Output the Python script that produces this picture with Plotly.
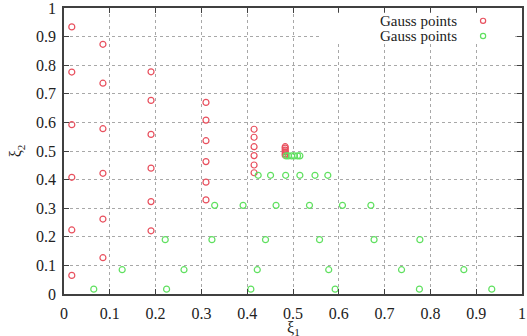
import plotly.graph_objects as go

# Red series: six columns of six points
red_x = [0.017]*6 + [0.085]*6 + [0.19]*6 + [0.31]*6 + [0.415]*6 + [0.483]*6
red_y = [0.065, 0.224, 0.408, 0.592, 0.776, 0.934,
         0.127, 0.262, 0.422, 0.578, 0.737, 0.873,
         0.221, 0.323, 0.440, 0.558, 0.677, 0.777,
         0.329, 0.391, 0.463, 0.536, 0.608, 0.670,
         0.424, 0.451, 0.484, 0.515, 0.548, 0.576,
         0.485, 0.490, 0.497, 0.503, 0.510, 0.515]

# Green series: six rows of six points
green_x = [0.065, 0.224, 0.408, 0.592, 0.776, 0.934,
           0.127, 0.262, 0.422, 0.578, 0.737, 0.873,
           0.221, 0.323, 0.440, 0.558, 0.677, 0.777,
           0.329, 0.391, 0.463, 0.536, 0.608, 0.670,
           0.424, 0.451, 0.484, 0.515, 0.548, 0.576,
           0.485, 0.490, 0.497, 0.503, 0.510, 0.515]
green_y = [0.017]*6 + [0.085]*6 + [0.19]*6 + [0.31]*6 + [0.415]*6 + [0.483]*6

tick_vals = [0, 0.1, 0.2, 0.3, 0.4, 0.5, 0.6, 0.7, 0.8, 0.9, 1]
tick_text = ["0", "0.1", "0.2", "0.3", "0.4", "0.5", "0.6", "0.7", "0.8", "0.9", "1"]
legend_names = ["Gauss points", "Gauss points"]
x_title = "ξ<sub>1</sub>"
y_title = "ξ<sub>2</sub>"

RED = "#e8505e"
GREEN = "#5fe05f"
FONT = "Liberation Serif"

fig = go.Figure()
fig.add_trace(go.Scatter(x=red_x, y=red_y, mode="markers", name=legend_names[0],
                         marker=dict(symbol="circle-open", size=6, color=RED, line=dict(width=1.2))))
fig.add_trace(go.Scatter(x=green_x, y=green_y, mode="markers", name=legend_names[1],
                         marker=dict(symbol="circle-open", size=6, color=GREEN, line=dict(width=1.2))))

axis_common = dict(range=[0, 1], tickvals=tick_vals, ticktext=tick_text,
                   showgrid=True, gridcolor="#a8a8a8", griddash="dot", gridwidth=1,
                   showline=True, linecolor="#404040", linewidth=1.5, mirror="ticks",
                   ticks="inside", ticklen=5, tickcolor="#404040", tickwidth=1,
                   zeroline=False, ticklabeloverflow="allow", automargin=False,
                   tickfont=dict(family=FONT, size=16, color="#222"))

fig.update_layout(
    width=527, height=336,
    margin=dict(l=64, r=5, t=8, b=42),
    paper_bgcolor="white", plot_bgcolor="white",
    showlegend=False,
    font=dict(family=FONT, color="#222"),
    xaxis=dict(**axis_common, ticklabelstandoff=4),
    yaxis=dict(**axis_common, ticklabelstandoff=3,
               title=dict(text=y_title, font=dict(family=FONT, size=16), standoff=10)),
)

# x-axis title placed below tick labels
fig.add_annotation(text=x_title, xref="paper", yref="paper", x=0.5, y=-0.122,
                   xanchor="center", yanchor="middle", showarrow=False,
                   font=dict(family=FONT, size=16, color="#222"))

# opaque key box
fig.add_shape(type="rect", xref="paper", yref="paper", x0=0.562, x1=0.985, y0=0.874, y1=0.983,
              fillcolor="white", line=dict(width=0), layer="above")
rows = [0.955, 0.902]
colors = [RED, GREEN]
for name, yy, c in zip(legend_names, rows, colors):
    fig.add_annotation(text=name, xref="paper", yref="paper", x=0.86, y=yy,
                       xanchor="right", yanchor="middle", showarrow=False, borderpad=0,
                       font=dict(family=FONT, size=15, color="#222"))
    fig.add_shape(type="circle", xref="paper", yref="paper", xsizemode="pixel", ysizemode="pixel",
                  xanchor=0.915, yanchor=yy, x0=-2.6, x1=2.6, y0=-2.6, y1=2.6,
                  line=dict(color=c, width=1.2), layer="above")

fig.write_html("out.html")
